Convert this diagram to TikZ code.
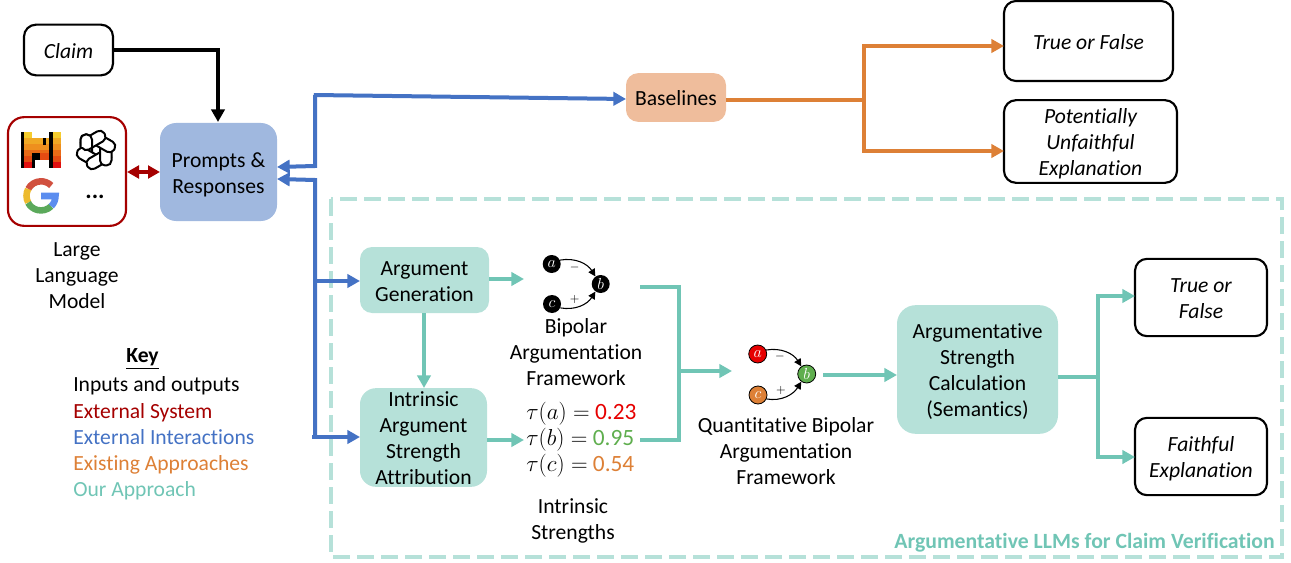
\documentclass[tikz,border=0pt]{standalone}
\usepackage{fontspec}
\usepackage{amsmath}
\setmainfont{Carlito}[Ligatures=NoCommon]
\usetikzlibrary{arrows.meta,calc}
\definecolor{cblue}{HTML}{4472C4}
\definecolor{cred}{HTML}{A50000}
\definecolor{corange}{HTML}{DD8036}
\definecolor{cteal}{HTML}{70C5B5}
\definecolor{lteal}{HTML}{B6E1D9}
\definecolor{lblue}{HTML}{A0B8DF}
\definecolor{lorange}{HTML}{EFBD9C}
\definecolor{tgreen}{HTML}{5FAE4E}
\definecolor{tred}{HTML}{E60000}
\definecolor{ma}{HTML}{F5CC2E}
\definecolor{mb}{HTML}{F0A824}
\definecolor{mc}{HTML}{EE8F1E}
\definecolor{md}{HTML}{EA6A16}
\definecolor{me}{HTML}{E54B12}
\definecolor{mf}{HTML}{E00F0F}
\definecolor{gr}{HTML}{D1503F}
\definecolor{gy}{HTML}{EDBB2F}
\definecolor{gg}{HTML}{5BA95B}
\definecolor{gb}{HTML}{5B8DEF}
\newcommand{\strutL}{\rule{0pt}{14.6pt}}
\newcommand{\strutM}{\rule{0pt}{13.4pt}}
\newcommand{\strutS}{\rule{0pt}{12.4pt}}
\tikzset{
  x=0.75pt,y=-0.75pt,
  every node/.style={font=\fontsize{16.2}{19.5}\selectfont,align=center,inner sep=0pt},
  box/.style={rounded corners=9pt,minimum width=#1*0.75pt},
  outbox/.style={box=#1,draw=black,line width=1.6pt,fill=white,font=\fontsize{16.2}{19.5}\selectfont\itshape},
  fillbox/.style={box=#1,draw=none},
  tip/.style={-{Triangle[length=9.5pt,width=10pt]}},
  tipboth/.style={{Triangle[length=9pt,width=9.5pt]}-{Triangle[length=9pt,width=9.5pt]}},
  conn/.style={line width=3pt,line join=miter},
  black conn/.style={conn,tip,black},
  blue conn/.style={conn,tip,cblue},
  orange conn/.style={conn,tip,corange},
  teal conn/.style={conn,tip,cteal},
  teal line/.style={conn,cteal},
  gnode/.style={circle,minimum size=13.5pt,fill=black,text=white,font=\fontsize{12}{12}\selectfont},
  gedge/.style={line width=0.8pt,-{Triangle[length=5.5pt,width=5.5pt]}},
  sign/.style={font=\fontsize{9}{9}\selectfont},
  keyline/.style={anchor=base west},
  tauline/.style={anchor=west,font=\fontsize{17.5}{20}\selectfont},
  knot/.style={black,fill=white,line width=1.5pt,rounded corners=3.8pt},
}
\begin{document}
\begin{tikzpicture}
\useasboundingbox (0,0) rectangle (1291,563);
% dashed frame
\draw[lteal,line width=3.2pt,dash pattern=on 13pt off 5pt] (331,199) rectangle (1282,557);
\node[font=\fontsize{16.3}{18}\selectfont\bfseries,text=cteal,anchor=base east] (frame) at (1275,548) {Argumentative LLMs for Claim Verification};

% boxes
\node[outbox=89,minimum height=38pt] (claim) at (68.5,50) {\strutS Claim};
\node[draw=cred,line width=1.6pt,rounded corners=12pt,minimum width=88.5pt,minimum height=81.5pt] (llm) at (67,171.5) {};
\node[fillbox=117,fill=lblue,minimum height=73.5pt,rounded corners=12pt] (prompts) at (218.5,172) {\rule{0pt}{15.6pt}Prompts \&\\Responses};
\node[fillbox=100,fill=lorange,minimum height=36.5pt] (base) at (676,97.5) {\strutS Baselines};
\node[outbox=169,minimum height=60pt] (tf1) at (1088.5,41) {\strutS True or False};
\node[outbox=173,minimum height=62pt] (pue) at (1090.5,141.5) {\strutL Potentially\\Unfaithful\\Explanation};
\node[fillbox=129,fill=lteal,minimum height=49.5pt] (gen) at (424.5,280) {\strutM Argument\\Generation};
\node[fillbox=127,fill=lteal,minimum height=74pt,rounded corners=12pt] (intr) at (423.5,437.5) {\strutS Intrinsic\\Argument\\Strength\\Attribution};
\node[fillbox=161,fill=lteal,minimum height=96.5pt,rounded corners=14pt] (asc) at (977.5,369.5) {\strutL Argumentative\\Strength\\Calculation\\(Semantics)};
\node[outbox=132,minimum height=58pt] (tf2) at (1201,297.5) {\strutS True or\\False};
\node[outbox=132,minimum height=58pt] (ff) at (1201,456.5) {\strutL Faithful\\Explanation};

% LLM logos
\begin{scope}[shift={(21,132)}]
  \fill[black] (0,0) rectangle (3.3,36);
  \fill[black] (28,0) rectangle (31.5,36);
  \foreach \yy/\cc in {0/ma,6/mb,12/mc,18/md,24/me,30/mf}{
    \fill[\cc] (3.3,\yy) rectangle (11,\yy+6);
    \fill[\cc] (31.5,\yy) rectangle (40,\yy+6);
  }
  \foreach \yy/\cc in {6/mb,12/mc,18/md}{\fill[\cc] (11,\yy) rectangle (28,\yy+6);}
  \fill[black] (21.7,6) rectangle (25,13);
  \fill[black] (11,21) rectangle (14,36);
  \fill[black] (14,21) rectangle (18.5,28);
  \fill[me] (18.5,21) rectangle (28,28);
\end{scope}
\begin{scope}[shift={(96,150)}]
  \foreach \a in {0,60,120,180,240,300}{
    \draw[knot,rotate=\a] (-15.5,-15.5) rectangle (-4,11);
  }
  \begin{scope}
    \clip (-20,-20) rectangle (20,-3);
    \draw[knot] (-15.5,-15.5) rectangle (-4,11);
  \end{scope}
\end{scope}
\begin{scope}[shift={(41,196)}]
  \draw[line width=4.9pt,color=gr] (-12.8,-7) arc (-152:-45:14.5);
  \draw[line width=4.9pt,color=gy] (-12.8,-7) arc (-152:-208:14.5);
  \draw[line width=4.9pt,color=gg] (10.2,10.2) arc (45:152:14.5);
  \draw[line width=4.9pt,color=gb] (0,0) -- (14.5,0) arc (0:45:14.5);
\end{scope}
\node[anchor=base,font=\fontsize{18}{18}\selectfont\bfseries] (dots) at (95,198) {...};

% texts
\node (llmtxt) at (77,276) {Large\\Language\\Model};
\node[anchor=base] (key) at (142.5,362) {\bfseries\underline{Key}};
\node[keyline] (k1) at (73,391) {Inputs and outputs};
\node[keyline,text=cred] (k2) at (73,418) {External System};
\node[keyline,text=cblue] (k3) at (73,444) {External Interactions};
\node[keyline,text=corange] (k4) at (73,470) {Existing Approaches};
\node[keyline,text=cteal] (k5) at (73,496) {Our Approach};
\node (bp) at (576,352) {Bipolar\\Argumentation\\Framework};
\node[tauline] (t1) at (526,414) {$\tau(a)=$ \textcolor{tred}{0.23}};
\node[tauline] (t2) at (526,440) {$\tau(b)=$ \textcolor{tgreen}{0.95}};
\node[tauline] (t3) at (526,466) {$\tau(c)=$ \textcolor{corange}{0.54}};
\node (is) at (573,521) {Intrinsic\\Strengths};
\node (qb) at (786,451) {Quantitative Bipolar\\Argumentation\\Framework};

% mini graph 1
\node[gnode] (a1) at (551.7,264) {$a$};
\node[gnode] (b1) at (600.7,284) {$b$};
\node[gnode] (c1) at (552,304) {$c$};
\draw[gedge] (a1.25) to[out=10,in=122] (b1.125);
\draw[gedge] (c1.-25) to[out=-10,in=-122] (b1.-125);
\node[sign] (m1) at (574.7,267) {$-$};
\node[sign] (p1) at (574.7,299.5) {$+$};
% mini graph 2
\node[gnode,fill=tred,draw=black,line width=0.6pt] (a2) at (757.7,354) {$a$};
\node[gnode,fill=tgreen,draw=black,line width=0.6pt] (b2) at (806.7,374) {$b$};
\node[gnode,fill=corange,draw=black,line width=0.6pt] (c2) at (758,395) {$c$};
\draw[gedge] (a2.25) to[out=10,in=122] (b2.125);
\draw[gedge] (c2.-25) to[out=-10,in=-122] (b2.-125);
\node[sign] (m2) at (780,356.5) {$-$};
\node[sign] (p2) at (781,390) {$+$};

% coordinates
\coordinate (pIn1) at (277,167);
\coordinate (pIn2) at (277,179);
\coordinate (bIn) at (626,99);
\coordinate (genIn) at (360,281);
\coordinate (intIn) at (360,437);
\coordinate (g1in) at (524,279);
\coordinate (tauIn) at (524,440);
\coordinate (g1out) at (640,287);
\coordinate (tauOut) at (640,440);
\coordinate (g2in) at (732,371);
\coordinate (g2out) at (823,375);

% connectors
\draw[black conn] (113,50) -- (218,50) -- (218,122);
\draw[conn,cred,tipboth] (127,172) -- (160,172);
\draw[blue conn] (315,95) -- (315,166) -- (pIn1);
\draw[blue conn] (313.9,95) -- (bIn);
\draw[blue conn] (315,437) -- (315,180) -- (pIn2);
\draw[blue conn] (312,437) -- (intIn);
\draw[blue conn] (315,281) -- (genIn);

\draw[conn,corange] (726,100) -- (864,100);
\draw[orange conn] (864,100) -- (864,46) -- (1004,46);
\draw[orange conn] (864,100) -- (864,151) -- (1004,151);

\draw[teal conn] (489,279) -- (g1in);
\draw[teal conn] (424,313) -- (424,388);
\draw[teal conn] (487,440) -- (tauIn);
\draw[teal line] (g1out) -- (679,287) -- (679,440) -- (tauOut);
\draw[teal conn] (679,371) -- (g2in);
\draw[teal conn] (g2out) -- (897,375);
\draw[teal line] (1058,377) -- (1098,377);
\draw[teal conn] (1098,377) -- (1098,296) -- (1135,296);
\draw[teal conn] (1098,377) -- (1098,457) -- (1135,457);
\end{tikzpicture}
\end{document}
